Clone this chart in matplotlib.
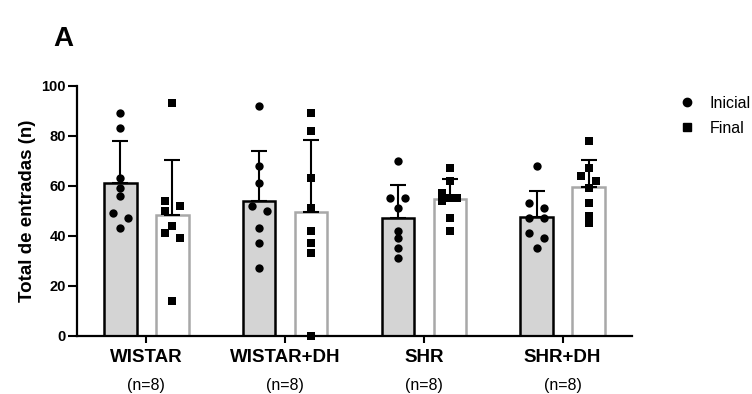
import numpy as np
import matplotlib
matplotlib.use("Agg")
import matplotlib.pyplot as plt
from matplotlib.lines import Line2D
import matplotlib.transforms as mtransforms

plt.rcParams['font.family'] = ['Liberation Sans', 'DejaVu Sans']

# grupos e valores individuais
grupos = ["WISTAR", "WISTAR+DH", "SHR", "SHR+DH"]
n_labels = ["(n=8)", "(n=8)", "(n=8)", "(n=8)"]
inicial = [
    [89, 83, 63, 59, 56, 49, 47, 43],
    [92, 68, 61, 52, 50, 43, 37, 27],
    [70, 55, 55, 51, 42, 39, 35, 31],
    [68, 53, 51, 47, 47, 41, 39, 35],
]
final = [
    [93, 54, 52, 50, 44, 41, 39, 14],
    [89, 82, 63, 51, 42, 37, 33, 0],
    [67, 62, 57, 55, 55, 54, 47, 42],
    [78, 67, 64, 62, 59, 53, 48, 45],
]
yticks = [0, 20, 40, 60, 80, 100]

fig = plt.figure(figsize=(7.52, 3.94), dpi=100)
ax = fig.add_axes([0.1024, 0.148, 0.738, 0.6345])

off = 0.187
bw = 0.235
x = np.arange(len(grupos))

# px por unidade (para o espalhamento dos pontos)
px_x = 138.7
px_y = 2.49


def espalha(vals, d=0.054, diam=7.0):
    # agrupa pontos vizinhos e espalha na horizontal (tipo Prism)
    vals = list(vals)
    n = len(vals)
    cluster = [0] * n
    c = 0
    for j in range(1, n):
        if abs(vals[j] - vals[j - 1]) * px_y >= diam:
            c += 1
        cluster[j] = c
    xs = [0.0] * n
    placed = []
    for j, v in enumerate(vals):
        tam = cluster.count(cluster[j])
        cands = [0] if tam == 1 else [-d, d, 0, -2 * d, 2 * d]
        for dx in cands:
            ok = all(np.hypot((dx - px) * px_x, (v - py) * px_y) >= diam
                     for (px, py) in placed)
            if ok:
                break
        placed.append((dx, v))
        xs[j] = dx
    return np.array(xs)


for i in range(len(grupos)):
    for vals, sgn, face, edge, mk in [
        (inicial[i], -1, "#d4d4d4", "black", "o"),
        (final[i], 1, "white", "#a8a8a8", "s"),
    ]:
        v = np.array(vals, dtype=float)
        m = v.mean()
        sd = v.std(ddof=1)
        xc = x[i] + sgn * off
        ax.bar(xc, m, width=bw, color=face, edgecolor=edge, linewidth=1.8, zorder=2)
        ax.errorbar(xc, m, yerr=[[0], [sd]], fmt="none", ecolor="black",
                    elinewidth=1.5, capsize=6, capthick=1.5, zorder=3)
        xs = espalha(v)
        ax.scatter(xc + xs, v, marker=mk, s=36 if mk == "o" else 30, color="black",
                   zorder=4, clip_on=False, linewidths=0)

ax.set_xlim(-0.5, 3.5)
ax.set_ylim(0, 100)
ax.set_yticks(yticks)
ax.set_yticklabels([str(t) for t in yticks], fontweight="bold", fontsize=10.5)
ax.set_xticks(x)
ax.set_xticklabels(grupos, fontweight="bold", fontsize=13.5)
ax.tick_params(axis="y", length=6.5, width=1.5, pad=1.5)
ax.tick_params(axis="x", length=5, width=1.5, pad=4.5)
for s in ["top", "right"]:
    ax.spines[s].set_visible(False)
for s in ["left", "bottom"]:
    ax.spines[s].set_linewidth(1.6)

ax.set_ylabel("Total de entradas (n)", fontweight="bold", fontsize=13.5, labelpad=4)

trans = mtransforms.blended_transform_factory(ax.transData, ax.transAxes)
for i, lab in enumerate(n_labels):
    ax.text(x[i], -0.2, lab, transform=trans, ha="center", va="center", fontsize=11.5)

fig.text(63 / 752, 1 - 39 / 394, "A", fontsize=20, fontweight="bold", ha="center", va="center")

handles = [
    Line2D([], [], marker="o", color="black", linestyle="none", markersize=6),
    Line2D([], [], marker="s", color="black", linestyle="none", markersize=5.5),
]
fig.legend(handles, ["Inicial", "Final"], loc="upper left",
           bbox_to_anchor=(679 / 752, 1 - 96 / 394), frameon=False,
           fontsize=11.5, handlelength=1.0, handletextpad=0.9, labelspacing=0.6,
           borderaxespad=0, borderpad=0)

fig.savefig("out.png", dpi=100)
